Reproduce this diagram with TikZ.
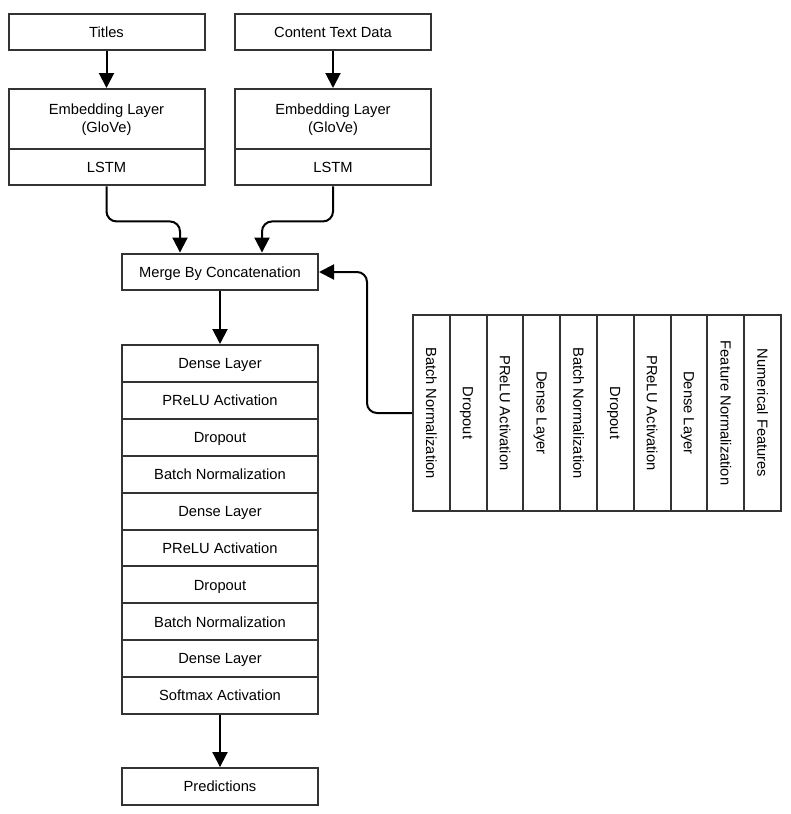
\documentclass[tikz,border=0pt]{standalone}
\usepackage{fontspec}
\setmainfont{Liberation Sans}
\usetikzlibrary{arrows.meta,positioning}

\tikzset{
  box/.style={draw=black!80, line width=2pt, fill=white, inner sep=0pt,
    minimum width=196pt, minimum height=36.9pt, align=center,
    font=\fontsize{14.7}{17.5}\selectfont},
  block/.style={box, text height=11pt, text depth=0.5pt},
  colblock/.style={block, rotate=-90, minimum width=196pt, minimum height=36.8pt},
  arr/.style={-{Triangle[width=15pt,length=15pt]}, line width=2pt, rounded corners=10pt}
}

\begin{document}
\begin{tikzpicture}[x=1pt,y=-1pt]
\useasboundingbox (0,0) rectangle (791,814);
% inputs
\node[block] (titles) at (106.5,32) {Titles};
\node[block] (content) at (333,32) {Content Text Data};
\node[box, minimum height=61pt] (emb1) at (106.5,119.5) {Embedding Layer\\(GloVe)};
\node[block] (lstm1) at (106.5,167) {LSTM};
\node[box, minimum height=61pt] (emb2) at (333,119.5) {Embedding Layer\\(GloVe)};
\node[block] (lstm2) at (333,167) {LSTM};
\node[block] (merge) at (220,272) {Merge By Concatenation};
% dense stack
\foreach \t [count=\i] in {Dense Layer, PReLU Activation, Dropout, Batch Normalization,
  Dense Layer, PReLU Activation, Dropout, Batch Normalization, Dense Layer, Softmax Activation}
  \node[block] (d\i) at (220,{345+36.9*(\i-0.5)}) {\t};
\node[block] (pred) at (220,786.5) {Predictions};
% numerical side
\foreach \t [count=\i] in {Batch Normalization, Dropout, PReLU Activation, Dense Layer,
  Batch Normalization, Dropout, PReLU Activation, Dense Layer, Feature Normalization, Numerical Features}
  \node[colblock] (r\i) at ({413+36.8*(\i-0.5)},413) {\t};
% connectors
\draw[arr] (titles) -- (emb1);
\draw[arr] (content) -- (emb2);
\draw[arr] (lstm1.south) -- ++(0,35) -| ([xshift=-40pt]merge.north);
\draw[arr] (lstm2.south) -- ++(0,35) -| ([xshift=42pt]merge.north);
\draw[arr] (merge) -- (d1);
\draw[arr] (d10) -- (pred);
\draw[arr] (r1.south) -| ([xshift=48pt]merge.east) -- (merge.east);
\end{tikzpicture}
\end{document}
